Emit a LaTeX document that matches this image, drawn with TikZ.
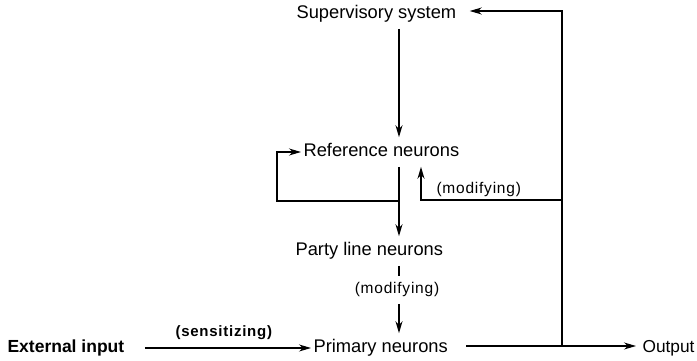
\documentclass[tikz,border=0pt]{standalone}
\usepackage{fontspec}
\setmainfont{Liberation Sans}
\usetikzlibrary{arrows.meta}
\begin{document}
\begin{tikzpicture}[x=1pt,y=-1pt,
  every path/.style={line width=1.1pt},
  txt/.style={font=\fontsize{18.3}{21}\selectfont, inner xsep=2pt, inner ysep=6pt, text height=12.5pt, text depth=4pt, anchor=west},
  lbl/.style={font=\fontsize{15.5}{18}\selectfont\addfontfeatures{LetterSpace=5}, inner xsep=1pt, inner ysep=6pt, text height=11pt, text depth=3.5pt},
  arr/.style={-{Stealth[length=12pt,width=7pt]}}]
\useasboundingbox (0,0) rectangle (697,361);
% nodes
\node[txt] (sup) at (294,14) {Supervisory system};
\node[txt] (ref) at (301,152) {Reference neurons};
\node[txt] (party) at (293,251) {Party line neurons};
\node[txt] (prim) at (311,348) {Primary neurons};
\node[txt, font=\fontsize{17.5}{20}\selectfont\bfseries] (ext) at (5,348) {External input};
\node[txt, font=\fontsize{17.3}{20}\selectfont] (out) at (640,348) {Output};
\node[lbl] (mod2) at (397,290) {(modifying)};
\node[lbl, anchor=west] (mod1) at (435,190) {(modifying)};
\node[lbl, anchor=west, font=\fontsize{15}{18}\selectfont\bfseries\addfontfeatures{LetterSpace=5}] (sens) at (174,333) {(sensitizing)};
% coordinates
\coordinate (c) at (399,0);
\coordinate (lj) at (399,201);
\coordinate (ll) at (277,201);
\coordinate (rt) at (562,11);
\coordinate (rj) at (562,200);
\coordinate (rb) at (562,346);
\coordinate (mx) at (421,200);
% connectors
\draw[arr] (sup.south -| c) -- (ref.north -| c);
\draw[arr] (ref.south -| c) -- (party.north -| c);
\draw[arr] (lj) -- (ll) |- (ref.west);
\draw[arr] (rj) -- (mx) -- (ref.south -| mx);
\draw (party.south -| c) -- (mod2.north -| c);
\draw[arr] (mod2.south -| c) -- (prim.north -| c);
\draw[arr, shorten <=18pt] (ext.east) -- (prim.west);
\draw[arr, shorten <=16pt, shorten >=4pt] (prim.east |- rb) -- (out.west |- rb);
\draw[arr, shorten >=11pt] (rb) -- (rt) -- (sup.east |- rt);
\end{tikzpicture}
\end{document}
